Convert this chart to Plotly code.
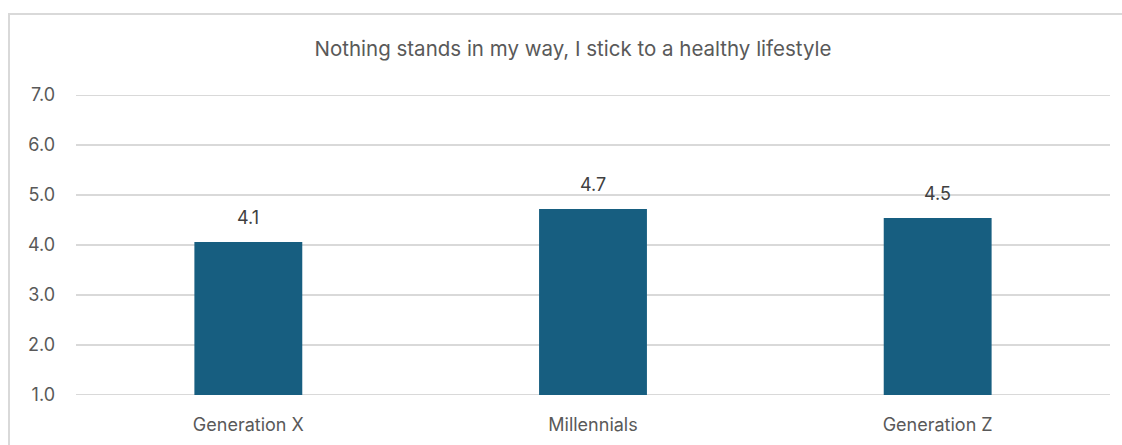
import plotly.graph_objects as go

categories = ["Generation X", "Millennials", "Generation Z"]
values = [4.06, 4.72, 4.54]
title_text = "Nothing stands in my way, I stick to a healthy lifestyle"
tick_vals = [1, 2, 3, 4, 5, 6, 7]
tick_text = ["1.0", "2.0", "3.0", "4.0", "5.0", "6.0", "7.0"]
y_min, y_max = 1, 7

W, H = 1122, 445
L, R, T, B = 76, 12, 95, 50
pw = W - L - R
ph = H - T - B
FONT = "Inter"
GRID = "#d9d9d9"

fig = go.Figure()
fig.add_trace(go.Bar(
    x=categories, y=[v - y_min for v in values],
    base=y_min,
    marker=dict(color="#175e80", line=dict(width=0)),
    hoverinfo="skip",
))

annotations = [
    dict(x=c, y=v, xref="x", yref="y", text=f"{v:.1f}", showarrow=False,
         yanchor="bottom", yshift=12,
         font=dict(size=18, color="#404040", family=FONT))
    for c, v in zip(categories, values)
]

shapes = [
    dict(type="line", xref="paper", yref="y", x0=0, x1=1, y0=yv, y1=yv,
         line=dict(color=GRID, width=2), layer="below")
    for yv in (y_min, y_max)
]
shapes.append(
    dict(type="rect", xref="paper", yref="paper",
         x0=(9 - L) / pw, x1=(W + 10 - L) / pw,
         y0=-(H + 10 - T - ph) / ph, y1=1 + (T - 14) / ph,
         line=dict(color=GRID, width=2), fillcolor="rgba(0,0,0,0)",
         layer="below")
)

fig.update_layout(
    width=W, height=H,
    margin=dict(l=L, r=R, t=T, b=B),
    paper_bgcolor="white", plot_bgcolor="white",
    bargap=0.687,
    showlegend=False,
    font=dict(family=FONT, color="#595959"),
    title=dict(text=title_text, x=573 / W, xref="container", xanchor="center",
               y=1 - 49 / H, yref="container", yanchor="middle",
               font=dict(size=20.5, color="#595959", family=FONT)),
    xaxis=dict(showgrid=False, showline=False, ticks="", automargin=False,
               tickfont=dict(size=18, color="#595959"), ticklabelstandoff=17),
    yaxis=dict(range=[y_min, y_max], tickvals=tick_vals, ticktext=tick_text,
               showgrid=True, gridcolor=GRID, gridwidth=2, automargin=False,
               zeroline=False, showline=False, ticks="",
               tickfont=dict(size=18, color="#595959"), ticklabelstandoff=20),
    annotations=annotations,
    shapes=shapes,
)

fig.write_html("out.html")
